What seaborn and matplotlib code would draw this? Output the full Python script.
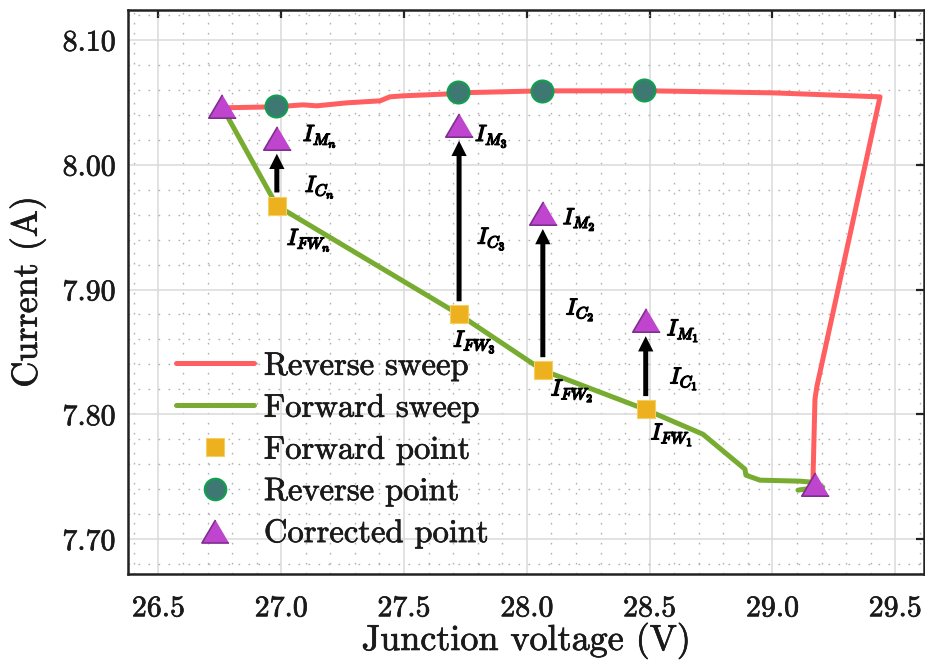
import matplotlib
matplotlib.use("Agg")
import matplotlib.pyplot as plt
import matplotlib.patheffects as pe
from matplotlib.lines import Line2D
from matplotlib.ticker import MultipleLocator
import pandas as pd
import seaborn as sns

# Reverse sweep trace
reverse_v = [26.759, 26.978, 27.088, 27.145, 27.267, 27.402, 27.442, 27.495, 27.687,
             27.719, 28.061, 28.513, 29.002, 29.438, 29.181, 29.173, 29.165]
reverse_i = [8.0456, 8.0464, 8.0480, 8.0472, 8.0496, 8.0512, 8.0544, 8.0552, 8.0568,
             8.0576, 8.0592, 8.0592, 8.0576, 8.0544, 7.8224, 7.8120, 7.7480]

# Forward sweep trace
forward_v = [26.759, 26.982, 27.724, 28.065, 28.481, 28.717, 28.888, 28.892, 28.949,
             29.112, 29.161, 29.205, 29.161, 29.104]
forward_i = [8.0464, 7.9672, 7.8800, 7.8352, 7.8040, 7.7840, 7.7560, 7.7512, 7.7472,
             7.7464, 7.7456, 7.7416, 7.7408, 7.7392]

# Operating points (left to right: n, 3, 2, 1)
point_tags = ["n", "3", "2", "1"]
fw_point_v = [26.982, 27.724, 28.065, 28.484]
fw_point_i = [7.9672, 7.8800, 7.8352, 7.8040]
rev_point_v = [26.978, 27.719, 28.061, 28.477]
rev_point_i = [8.0472, 8.0581, 8.0592, 8.0595]
corr_point_v = [26.759, 26.982, 27.724, 28.065, 28.484, 29.173]
corr_point_i = [8.0472, 8.0216, 8.0320, 7.9613, 7.8754, 7.7440]
measured_i = corr_point_i[1:5]

x_ticks = [26.5, 27.0, 27.5, 28.0, 28.5, 29.0, 29.5]
y_ticks = [7.70, 7.80, 7.90, 8.00, 8.10]

RED = "#FF5F60"
GREEN = "#77AC30"
GOLD = "#EDB120"
TEAL = "#3D7873"
TEAL_EDGE = "#10A050"
PURPLE = "#BF45CF"
PURPLE_EDGE = "#7E2F8E"

sns.set_theme(style="white")
plt.rcParams.update({
    "font.family": ["cmr10"],
    "mathtext.fontset": "cm",
    "axes.formatter.use_mathtext": True,
    "axes.unicode_minus": False,
})

fig = plt.figure(figsize=(9.25, 6.65), dpi=100)
ax = fig.add_axes([128 / 925, 1 - 574 / 665, 796 / 925, 564 / 665])

rev_df = pd.DataFrame({"v": reverse_v, "i": reverse_i})
fw_df = pd.DataFrame({"v": forward_v, "i": forward_i})
sns.lineplot(data=fw_df, x="v", y="i", sort=False, estimator=None, color=GREEN,
             lw=3.6, ax=ax, zorder=3)
sns.lineplot(data=rev_df, x="v", y="i", sort=False, estimator=None, color=RED,
             lw=3.6, ax=ax, zorder=3)

tri = [(0, 0.85), (-1, -0.85), (1, -0.85)]
sns.scatterplot(x=rev_point_v, y=rev_point_i, marker="o", s=250, color=TEAL,
                edgecolor=TEAL_EDGE, linewidth=1.5, ax=ax, zorder=5)
sns.scatterplot(x=fw_point_v, y=fw_point_i, marker="s", s=170, color=GOLD,
                edgecolor="#F5CF60", linewidth=0.8, ax=ax, zorder=5)
sns.scatterplot(x=corr_point_v, y=corr_point_i, marker=tri, s=390, color=PURPLE,
                edgecolor=PURPLE_EDGE, linewidth=1.2, ax=ax, zorder=6)

# Correction arrows from forward points up to corrected points
for v, i0, i1 in zip(fw_point_v, fw_point_i, measured_i):
    ax.annotate("", xy=(v, i1), xytext=(v, i0),
                arrowprops=dict(arrowstyle="simple,head_length=0.55,head_width=0.55,tail_width=0.18",
                                mutation_scale=20, color="black", lw=0,
                                shrinkA=9.5, shrinkB=11.5),
                zorder=4)

bold = [pe.withStroke(linewidth=1.0, foreground="black")]
heavy = [pe.withStroke(linewidth=0.5, foreground="#1a1a1a")]
lab_kw = dict(textcoords="offset pixels", ha="left", va="center", fontsize=16.5,
              color="black", path_effects=bold, zorder=7)
m_off = [(26, 1), (16, -12), (20, -7), (21, -11)]
c_off = [(28, -18), (18, -75), (23, -60), (24, -30)]
f_off = [(10, -35), (-6, -28), (8, -21), (5, -26)]
for k, tag in enumerate(point_tags):
    v = fw_point_v[k]
    ax.annotate(rf"$I_{{M_{tag}}}$", xy=(v, measured_i[k]), xytext=m_off[k], **lab_kw)
    ax.annotate(rf"$I_{{C_{tag}}}$", xy=(v, fw_point_i[k]), xytext=(c_off[k][0], -c_off[k][1]), **lab_kw)
    ax.annotate(rf"$I_{{FW_{tag}}}$", xy=(v, fw_point_i[k]), xytext=f_off[k], **lab_kw)

ax.set_xlim(26.376, 29.617)
ax.set_ylim(7.672, 8.124)
ax.set_xticks(x_ticks)
ax.set_xticklabels([f"{t:.1f}" for t in x_ticks])
ax.set_yticks(y_ticks)
ax.set_yticklabels([f"{t:.2f}" for t in y_ticks])
ax.xaxis.set_minor_locator(MultipleLocator(0.1))
ax.yaxis.set_minor_locator(MultipleLocator(0.02))
ax.grid(which="major", color="#DADADA", lw=1.1, zorder=0)
ax.grid(which="minor", color="#B0B0B0", lw=1.0, ls=(0, (1.2, 6)), zorder=0)
ax.set_axisbelow(True)
ax.tick_params(which="major", direction="in", length=6, width=1.6, color="#222222",
               top=True, right=True, labelsize=21.5, labelcolor="#1a1a1a")
ax.tick_params(axis="x", pad=15)
ax.tick_params(axis="y", pad=9)
ax.tick_params(which="minor", length=0)
for s in ax.spines.values():
    s.set_color("#222222")
    s.set_linewidth(1.8)

ax.set_xlabel("Junction voltage (V)", fontsize=26, labelpad=0.5, color="#1a1a1a")
ax.set_ylabel("Current (A)", fontsize=26, labelpad=12, color="#1a1a1a")

handles = [
    Line2D([], [], color=RED, lw=3.6),
    Line2D([], [], color=GREEN, lw=3.6),
    Line2D([], [], ls="none", marker="s", ms=13, mfc=GOLD, mec="#F5CF60", mew=0.8),
    Line2D([], [], ls="none", marker="o", ms=15.5, mfc=TEAL, mec=TEAL_EDGE, mew=1.5),
    Line2D([], [], ls="none", marker=tri, ms=19.5, mfc=PURPLE, mec=PURPLE_EDGE, mew=1.2),
]
labels = ["Reverse sweep", "Forward sweep", "Forward point", "Reverse point", "Corrected point"]
leg = ax.legend(handles, labels, loc="lower left", bbox_to_anchor=(0.06, 0.046), frameon=False,
                fontsize=23.5, handlelength=2.4, handletextpad=0.3, labelspacing=0.38,
                borderaxespad=0, borderpad=0)

# Slightly heavier strokes for the serif text
for t in (ax.get_xticklabels() + ax.get_yticklabels() + leg.get_texts()
          + [ax.xaxis.label, ax.yaxis.label]):
    t.set_color("#1a1a1a")
    t.set_path_effects(heavy)

fig.savefig("out.png", dpi=100)
